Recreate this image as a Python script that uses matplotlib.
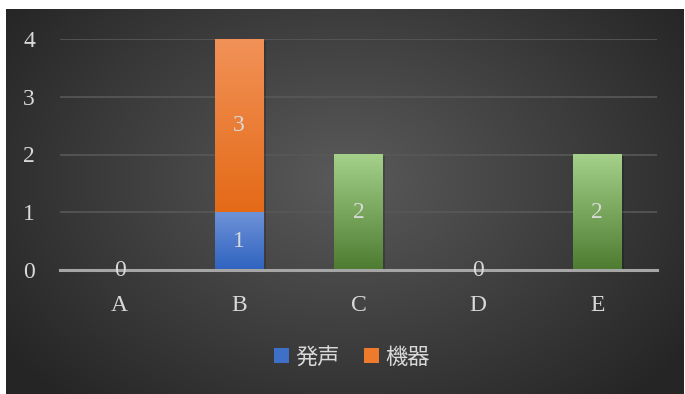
import numpy as np
import matplotlib
matplotlib.use("Agg")
import matplotlib.pyplot as plt
from matplotlib.patches import Patch
from matplotlib.colors import LinearSegmentedColormap

# データ
categories = ["A", "B", "C", "D", "E"]
voice = [0, 1, 0, 0, 0]        # 発声
device = [0, 3, 0, 0, 0]       # 機器
other = [0, 0, 2, 0, 2]        # 凡例なし（緑）
zero_labels = ["0", "", "", "0", ""]
yticks = [0, 1, 2, 3, 4]

SERIF = ["Liberation Serif", "DejaVu Serif"]
CJK = ["Noto Sans CJK JP", "DejaVu Sans"]
TEXT_COLOR = "#d9d9d9"
NUM_SIZE = 17


def gradient_bar(ax, bar, top_color, bottom_color):
    """棒を縦グラデーションで塗る"""
    x, y = bar.get_x(), bar.get_y()
    w, h = bar.get_width(), bar.get_height()
    if h == 0:
        return
    cmap = LinearSegmentedColormap.from_list("g", [bottom_color, top_color])
    grad = np.linspace(0, 1, 256).reshape(-1, 1)
    im = ax.imshow(grad, cmap=cmap, aspect="auto", origin="lower",
                   extent=(x, x + w, y, y + h), zorder=3)
    im.set_clip_path(bar)
    # 影
    ax.bar(x + w / 2 + 0.02, h, width=w, bottom=y - 0.03, color="black",
           alpha=0.18, zorder=1.5)


fig = plt.figure(figsize=(6.85, 3.94), dpi=100)
fig.patch.set_facecolor("white")

# 背景（放射グラデーション）
bg = fig.add_axes([6 / 685, 0, 678 / 685, 385 / 394])
bg.set_axis_off()
yy, xx = np.mgrid[0:385, 0:678]
r = np.sqrt(((xx - 340) / 420) ** 2 + ((yy - 170) / 300) ** 2)
r = np.clip(r, 0, 1)
c0 = np.array([0x5a, 0x5a, 0x5a]) / 255
c1 = np.array([0x25, 0x25, 0x25]) / 255
img = c0[None, None, :] * (1 - r[..., None]) + c1[None, None, :] * r[..., None]
bg.imshow(img, aspect="auto", extent=(0, 1, 0, 1))
bg.set_xlim(0, 1)
bg.set_ylim(0, 1)

ax = fig.add_axes([60 / 685, 1 - 270 / 394, 597 / 685, 231 / 394])
ax.patch.set_alpha(0)

x = np.arange(len(categories))
width = 0.41

b1 = ax.bar(x, voice, width=width, color="none", zorder=2)
b2 = ax.bar(x, device, width=width, bottom=voice, color="none", zorder=2)
b3 = ax.bar(x, other, width=width, color="none", zorder=2)

for bar in b1:
    gradient_bar(ax, bar, "#6e92d8", "#2f63c0")
for bar in b2:
    gradient_bar(ax, bar, "#f29258", "#e46a17")
for bar in b3:
    gradient_bar(ax, bar, "#a5d18a", "#4d7c31")

# データラベル
for i in range(len(categories)):
    if voice[i]:
        ax.text(x[i], voice[i] / 2, str(voice[i]), ha="center", va="center",
                color=TEXT_COLOR, fontsize=NUM_SIZE, family=SERIF, zorder=5)
    if device[i]:
        ax.text(x[i], voice[i] + device[i] / 2, str(device[i]), ha="center",
                va="center", color=TEXT_COLOR, fontsize=NUM_SIZE, family=SERIF, zorder=5)
    if other[i]:
        ax.text(x[i], other[i] / 2, str(other[i]), ha="center", va="center",
                color=TEXT_COLOR, fontsize=NUM_SIZE, family=SERIF, zorder=5)
    if zero_labels[i]:
        ax.text(x[i], 0, zero_labels[i], ha="center", va="center",
                color=TEXT_COLOR, fontsize=NUM_SIZE, family=SERIF, zorder=5)

ax.set_xlim(-0.5, len(categories) - 0.5)
ax.set_ylim(0, 4)
ax.set_yticks(yticks)
ax.set_xticks(x)
ax.set_xticklabels(categories)
for lbl in ax.get_xticklabels() + ax.get_yticklabels():
    lbl.set_family(SERIF)
    lbl.set_fontsize(NUM_SIZE)
    lbl.set_color(TEXT_COLOR)
ax.tick_params(length=0)
ax.tick_params(axis="y", pad=18)
ax.tick_params(axis="x", pad=18)
ax.yaxis.grid(True, color="#585858", linewidth=1.2, zorder=0)
ax.set_axisbelow(True)
for s in ["top", "right", "left"]:
    ax.spines[s].set_visible(False)
ax.spines["bottom"].set_color("#a6a6a6")
ax.spines["bottom"].set_linewidth(2.2)
ax.spines["bottom"].set_zorder(4)

handles = [Patch(facecolor="#3f70c8", label="発声"),
           Patch(facecolor="#ee7a2c", label="機器")]
leg = fig.legend(handles=handles, loc="center", bbox_to_anchor=(352 / 685, 1 - 357 / 394),
                 ncol=2, frameon=False, handlelength=0.65, handleheight=0.65,
                 handletextpad=0.3, columnspacing=1.1,
                 prop={"family": CJK, "size": 16})
for t in leg.get_texts():
    t.set_color(TEXT_COLOR)

fig.savefig("out.png", dpi=100)
